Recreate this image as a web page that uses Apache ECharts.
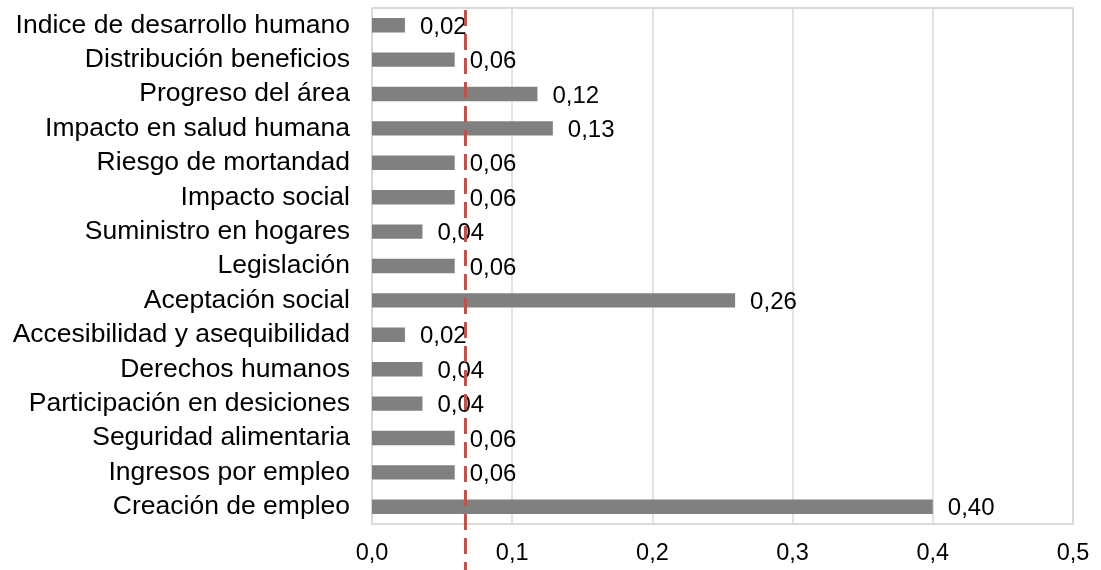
<!DOCTYPE html>
<html><head><meta charset="utf-8">
<script src="https://cdn.jsdelivr.net/npm/echarts@6/dist/echarts.min.js"></script>
<style>html,body{margin:0;padding:0;background:#fff}#c{width:1101px;height:570px}</style>
</head><body><div id="c"></div>
<script>
var categories = ["Creación de empleo","Ingresos por empleo","Seguridad alimentaria","Participación en desiciones","Derechos humanos","Accesibilidad y asequibilidad","Aceptación social","Legislación","Suministro en hogares","Impacto social","Riesgo de mortandad","Impacto en salud humana","Progreso del área","Distribución beneficios","Indice de desarrollo humano"];
var values = [0.400,0.059,0.059,0.036,0.036,0.0235,0.259,0.059,0.036,0.059,0.059,0.129,0.118,0.059,0.0235];
var xTicks = [0,0.1,0.2,0.3,0.4,0.5];
var threshold = 1/15;

var chart = echarts.init(document.getElementById('c'));
var font = 'Liberation Sans, Arial, sans-serif';
chart.setOption({
  animation:false,
  grid:{left:372,right:28,top:8,bottom:46,show:true,borderColor:'#d0d0d0',borderWidth:1.5},
  xAxis:{type:'value',min:xTicks[0],max:xTicks[xTicks.length-1],interval:0.1,
    axisLine:{show:false},axisTick:{show:false},
    splitLine:{lineStyle:{color:'#d9d9d9',width:1.5}},
    axisLabel:{color:'#000',fontFamily:font,fontSize:23.5,margin:18,formatter:function(v){return v.toFixed(1).replace('.',',');}}},
  yAxis:{type:'category',data:categories,
    axisLine:{show:false},axisTick:{show:false},
    axisLabel:{color:'#000',fontFamily:font,fontSize:26.5,margin:22,interval:0,hideOverlap:false}},
  series:[{type:'bar',data:values,barCategoryGap:'58%',
    itemStyle:{color:'#808080'},
    label:{show:true,position:'right',distance:15,color:'#000',fontFamily:font,fontSize:24,offset:[0,2],
      formatter:function(p){return p.value.toFixed(2).replace('.',',');}}}]
});
function drawLine(){
  var x = chart.convertToPixel({xAxisIndex:0}, threshold);
  var gridRect = chart.getModel().getComponent('grid').coordinateSystem.getRect();
  chart.setOption({graphic:[{type:'line',z:100,shape:{x1:x,y1:gridRect.y+2,x2:x,y2:570},
    style:{stroke:'#C0504D',lineWidth:3,lineDash:[16,8]}}]});
}
drawLine();
</script></body></html>
